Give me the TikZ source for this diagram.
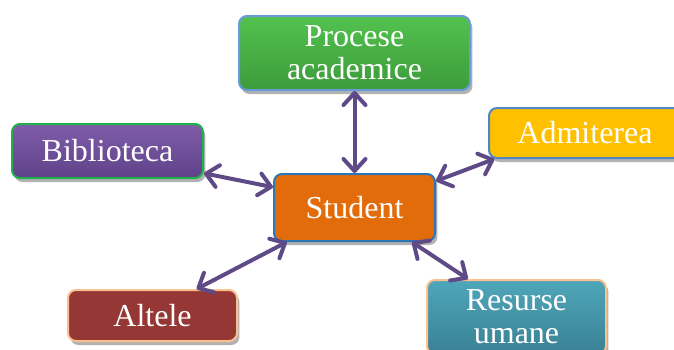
\documentclass[tikz,border=0pt]{standalone}
\usepackage{fontspec}
\setmainfont{Liberation Serif}
\usetikzlibrary{arrows.meta}
\usetikzlibrary{shadows}

\definecolor{linkpurple}{HTML}{5E4A86}
\definecolor{peach}{HTML}{FAC08F}
\definecolor{procesetop}{HTML}{52C24E}
\definecolor{procesebot}{HTML}{3D9B3B}
\definecolor{procesedraw}{HTML}{6A9BD8}
\definecolor{bibliotop}{HTML}{7F5CAA}
\definecolor{bibliobot}{HTML}{5F4289}
\definecolor{bibliodraw}{HTML}{22B04C}
\definecolor{admitfill}{HTML}{FFC000}
\definecolor{admitdraw}{HTML}{4F86C6}
\definecolor{studentfill}{HTML}{E36C0A}
\definecolor{studentdraw}{HTML}{2E75B6}
\definecolor{altelefill}{HTML}{953735}
\definecolor{resursetop}{HTML}{4FA6BA}
\definecolor{resursebot}{HTML}{3A8194}

\begin{document}
\begin{tikzpicture}[x=0.5pt, y=-0.5pt,
    box/.style={rounded corners=4pt, line width=1pt, align=center, text=white, inner sep=0pt,
      font=\fontsize{16}{16.5}\selectfont,
      drop shadow={shadow xshift=1.2pt, shadow yshift=-2pt, opacity=0.3, fill=black}},
    link/.style={{Straight Barb[round, length=6pt, width=11pt]}-{Straight Barb[round, length=6pt, width=11pt]},
      line width=2pt, linkpurple, line cap=round}]
      \clip (0,0) rectangle (674,349);
      \useasboundingbox (0,0) rectangle (674,349);

      \node[box, draw=procesedraw, top color=procesetop, bottom color=procesebot, minimum width=115.5pt, minimum height=37pt] (procese) at (354.5,53) {Procese\\academice};
      \node[box, draw=bibliodraw, top color=bibliotop, bottom color=bibliobot, minimum width=95.5pt, minimum height=27pt] (biblio) at (107.5,151) {Biblioteca};
      \node[box, draw=admitdraw, fill=admitfill, minimum width=96pt, minimum height=25pt] (admit) at (585,133) {Admiterea};
      \node[box, draw=studentdraw, fill=studentfill, minimum width=80.5pt, minimum height=33.5pt] (student) at (354.5,207.5) {Student};
      \node[box, draw=peach, fill=altelefill, minimum width=84.5pt, minimum height=25.5pt] (altele) at (152.5,315.5) {Altele};
      \node[box, draw=peach, top color=resursetop, bottom color=resursebot, minimum width=89.5pt, minimum height=37pt] (resurse) at (516.5,317) {Resurse\\umane};

      \draw[link] (procese.south) -- (student.north);
      \draw[link] (biblio.-13) -- (student.166);
      \draw[link] (admit.-164) -- (student.18);
      \draw[link] (altele.31) -- (student.-153);
      \draw[link] (resurse.142) -- (student.-31);
    \end{tikzpicture}
\end{document}
